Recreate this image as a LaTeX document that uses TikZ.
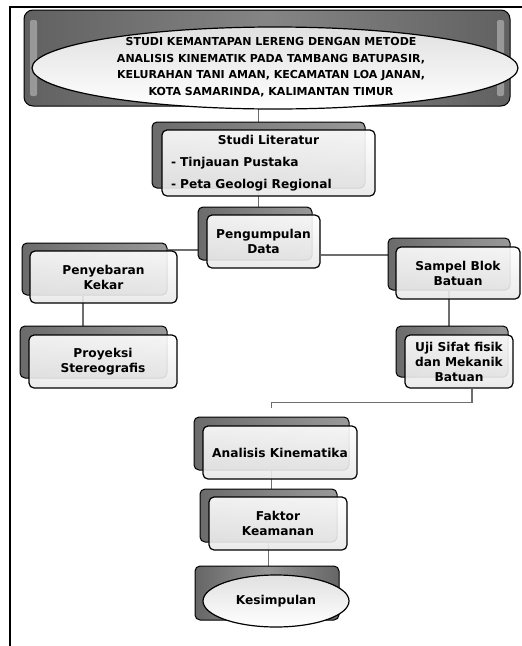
\documentclass[tikz,border=0pt]{standalone}
\usepackage{fontspec}
\setmainfont{DejaVu Sans}
\usetikzlibrary{shapes.geometric,backgrounds}
\definecolor{conncol}{HTML}{6E6E6E}
\tikzset{
 backbox/.style={draw=black, line width=1pt, rounded corners=5pt, left color=black!58, right color=black!40, inner sep=0pt},
 frontbox/.style={draw=black, line width=1.2pt, rounded corners=5pt, top color=white, bottom color=black!9, fill opacity=0.9, text opacity=1, inner sep=0pt, align=center, font=\fontsize{12.2}{15}\selectfont\bfseries},
 ovalbox/.style={ellipse, draw=black, line width=1.2pt, top color=black!12, bottom color=white, inner sep=0pt, align=center, font=\fontsize{12.2}{15}\selectfont\bfseries},
 conn/.style={draw=conncol, line width=1.6pt},
 frameline/.style={draw=black, line width=1.2pt},
 glint/.style={fill=white, fill opacity=0.35, draw=none, rounded corners=2pt},
}
\begin{document}
\begin{tikzpicture}[x=1pt,y=-1pt]
\useasboundingbox (0,0) rectangle (522,646);
\draw[frameline] (10,646) -- (10,7) -- (522,7);

% title
\node[backbox, rounded corners=9pt, minimum width=486pt, minimum height=96pt, left color=black!62, right color=black!62, middle color=black!48] (titleB) at (267,58) {};
\fill[glint] (30,20) rectangle (37,96);
\fill[glint] (497,20) rectangle (504,96);
\node[ovalbox, minimum width=486pt, minimum height=82pt] (titleE) at (275,68) {};
\node[font=\fontsize{11}{16.5}\selectfont\bfseries, align=center, inner sep=0pt] (titleT) at (271,67) {STUDI KEMANTAPAN LERENG DENGAN METODE\\ANALISIS KINEMATIK PADA TAMBANG BATUPASIR,\\KELURAHAN TANI AMAN, KECAMATAN LOA JANAN,\\KOTA SAMARINDA, KALIMANTAN TIMUR};

% studi literatur
\node[backbox, minimum width=213pt, minimum height=66pt] (litB) at (258.5,155) {};
\node[frontbox, minimum width=213pt, minimum height=66pt, text width=195pt, align=left, font=\fontsize{12.2}{22}\selectfont\bfseries] (litF) at (268.5,163) {\makebox[\linewidth][c]{Studi Literatur}\\- Tinjauan Pustaka\\- Peta Geologi Regional};

% pengumpulan data
\node[backbox, minimum width=114pt, minimum height=53pt] (pengB) at (255,233.5) {};
\node[frontbox, minimum width=113pt, minimum height=53pt] (pengF) at (263.5,241.5) {Pengumpulan\\Data};

% penyebaran kekar
\node[backbox, minimum width=145pt, minimum height=52pt] (penyB) at (94.5,269) {};
\node[frontbox, minimum width=147pt, minimum height=52pt] (penyF) at (103.5,277) {Penyebaran\\Kekar};

% sampel blok
\node[backbox, minimum width=122pt, minimum height=52pt] (sampB) at (449,264) {};
\node[frontbox, minimum width=124pt, minimum height=52pt] (sampF) at (458,273) {Sampel Blok\\Batuan};

% uji sifat
\node[backbox, minimum width=112pt, minimum height=51pt] (ujiB) at (452,351.5) {};
\node[frontbox, minimum width=108pt, minimum height=53pt] (ujiF) at (459,361.5) {Uji Sifat fisik\\dan Mekanik\\Batuan};

% proyeksi
\node[backbox, minimum width=147pt, minimum height=52pt] (proyB) at (93.5,352) {};
\node[frontbox, minimum width=148pt, minimum height=53pt] (proyF) at (103,361.5) {Proyeksi\\Stereografis};

% analisis
\node[backbox, minimum width=155pt, minimum height=53pt] (anaB) at (271.5,443.5) {};
\node[frontbox, minimum width=154pt, minimum height=53pt] (anaF) at (280,452.5) {Analisis Kinematika};

% faktor
\node[backbox, minimum width=137pt, minimum height=53pt] (fakB) at (268.5,515.5) {};
\node[frontbox, minimum width=138pt, minimum height=53pt] (fakF) at (278,523.5) {Faktor\\Keamanan};

% kesimpulan
\node[backbox, minimum width=144pt, minimum height=54pt, left color=black!60, right color=black!60, middle color=black!42] (kesB) at (267,593) {};
\node[ovalbox, minimum width=146pt, minimum height=52pt] (kesE) at (276,601) {Kesimpulan};

\begin{pgfonlayer}{background}
\draw[conn] (litB.north) -- (litB.north |- titleB.south);
\draw[conn] (litB.south) -- (litB.south |- pengB.north);
\draw[conn] ([yshift=-16.5pt]pengB.west) -- ([yshift=-16.5pt]pengB.west -| penyB.east);
\draw[conn] ([yshift=-13.5pt]pengF.east) -- ([yshift=-13.5pt]pengF.east -| sampB.west);
\draw[conn] (sampB.south) -- (sampB.south |- ujiB.north);
\draw[conn] ([xshift=-11.5pt]penyB.south) -- ([xshift=-11.5pt]penyB.south |- proyB.north);
\draw[conn] ([xshift=13pt]ujiF.south) -- ++(0,14) -| ([yshift=9pt]anaB.north);
\draw[conn] (anaB.south) -- (anaB.south |- fakB.north);
\draw[conn] (fakB.south) -- (fakB.south |- kesB.north);
\end{pgfonlayer}
\end{tikzpicture}
\end{document}
